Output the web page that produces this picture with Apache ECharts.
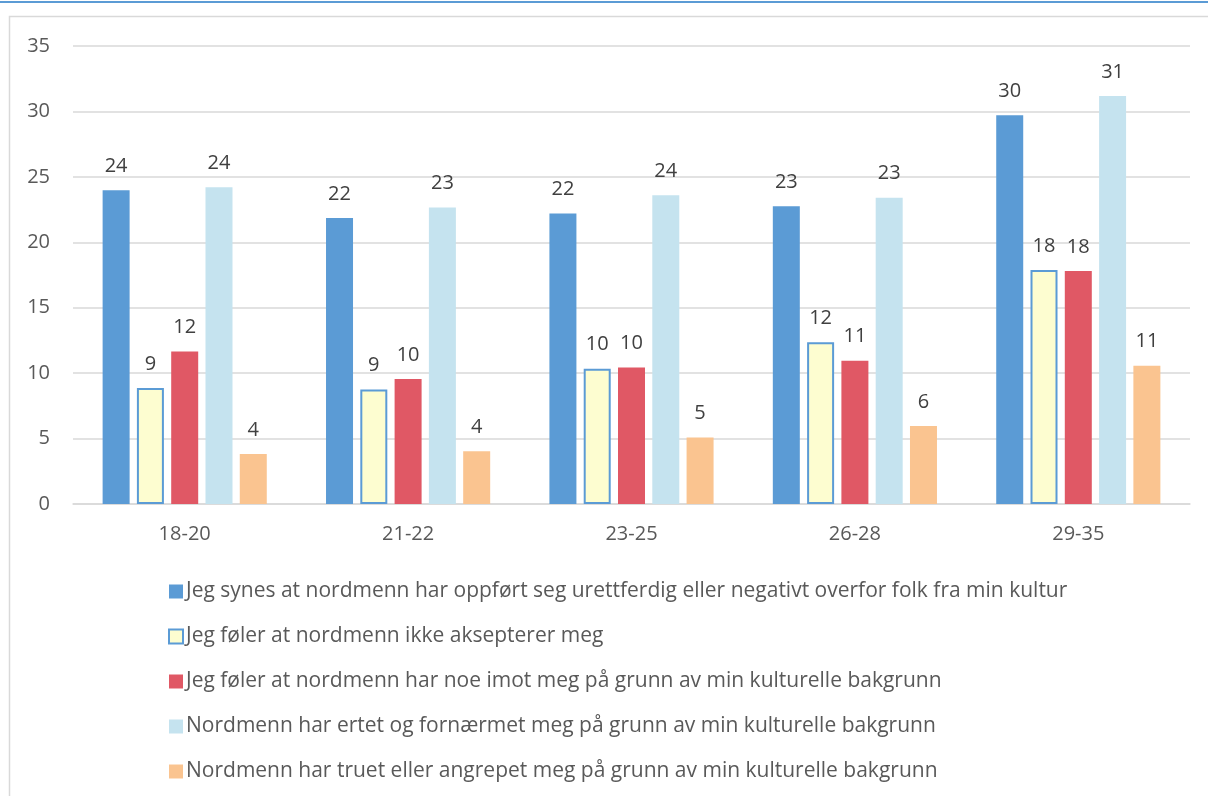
<!DOCTYPE html>
<html>
<head>
<meta charset="utf-8">
<script src="https://cdn.jsdelivr.net/npm/echarts@6/dist/echarts.min.js"></script>
<style>
html,body{margin:0;padding:0;background:#fff;}
#chart{width:1208px;height:796px;}
</style>
</head>
<body>
<div id="chart"></div>
<script>
const categories = ['18-20', '21-22', '23-25', '26-28', '29-35'];
const seriesNames = [
  'Jeg synes at nordmenn har oppført seg urettferdig eller negativt overfor folk fra min kultur',
  'Jeg føler at nordmenn ikke aksepterer meg',
  'Jeg føler at nordmenn har noe imot meg på grunn av min kulturelle bakgrunn',
  'Nordmenn har ertet og fornærmet meg på grunn av min kulturelle bakgrunn',
  'Nordmenn har truet eller angrepet meg på grunn av min kulturelle bakgrunn'
];
const unfair = [23.97, 21.85, 22.2, 22.75, 29.7];
const notAccepted = [8.87, 8.75, 10.34, 12.37, 17.88];
const againstMe = [11.65, 9.55, 10.44, 10.95, 17.8];
const teased = [24.2, 22.65, 23.6, 23.41, 31.18];
const threatened = [3.82, 4.04, 5.08, 5.96, 10.57];
const yTicks = [0, 5, 10, 15, 20, 25, 30, 35];

const FONT = 'Open Sans';
const colors = ['#5B9BD5', '#FDFDD0', '#E05865', '#C5E3EF', '#FAC490'];
const values = [unfair, notAccepted, againstMe, teased, threatened];

const chart = echarts.init(document.getElementById('chart'));
chart.setOption({
  animation: false,
  textStyle: { fontFamily: FONT },
  graphic: [
    { type: 'rect', shape: { x: 0, y: 1, width: 1208, height: 2 }, style: { fill: '#5B9BD5' }, silent: true },
    { type: 'polyline', shape: { points: [[9.5, 800], [9.5, 16.5], [1210, 16.5]] }, style: { stroke: '#D9D9D9', lineWidth: 1.5, fill: null }, silent: true }
  ],
  grid: { left: 73, right: 18, top: 46, bottom: 292, containLabel: false },
  legend: {
    orient: 'vertical',
    left: 163,
    top: 576,
    itemWidth: 14,
    itemHeight: 14,
    itemGap: 24,
    icon: 'rect',
    textStyle: { fontFamily: FONT, fontSize: 21, color: '#595959', lineHeight: 20, padding: [0, 0, 0, -2] },
    data: seriesNames
  },
  xAxis: {
    type: 'category',
    data: categories,
    axisTick: { show: false },
    axisLine: { lineStyle: { color: '#D9D9D9', width: 1.5 } },
    axisLabel: { fontFamily: FONT, fontSize: 20, color: '#595959', margin: 20 }
  },
  yAxis: {
    type: 'value',
    min: yTicks[0],
    max: yTicks[yTicks.length - 1],
    interval: 5,
    axisLine: { show: false },
    axisTick: { show: false },
    splitLine: { lineStyle: { color: '#D9D9D9', width: 1.5 } },
    axisLabel: { fontFamily: FONT, fontSize: 20, color: '#595959', margin: 23 }
  },
  series: seriesNames.map((name, i) => ({
    name: name,
    type: 'bar',
    data: values[i],
    barWidth: 27,
    barGap: '27%',
    itemStyle: i === 1
      ? { color: colors[i], borderColor: '#5B9BD5', borderWidth: 2 }
      : { color: colors[i] },
    label: {
      show: true,
      position: 'top',
      distance: 14,
      fontFamily: FONT,
      fontSize: 20,
      color: '#404040',
      formatter: p => Math.round(p.value)
    }
  }))
});
</script>
</body>
</html>
